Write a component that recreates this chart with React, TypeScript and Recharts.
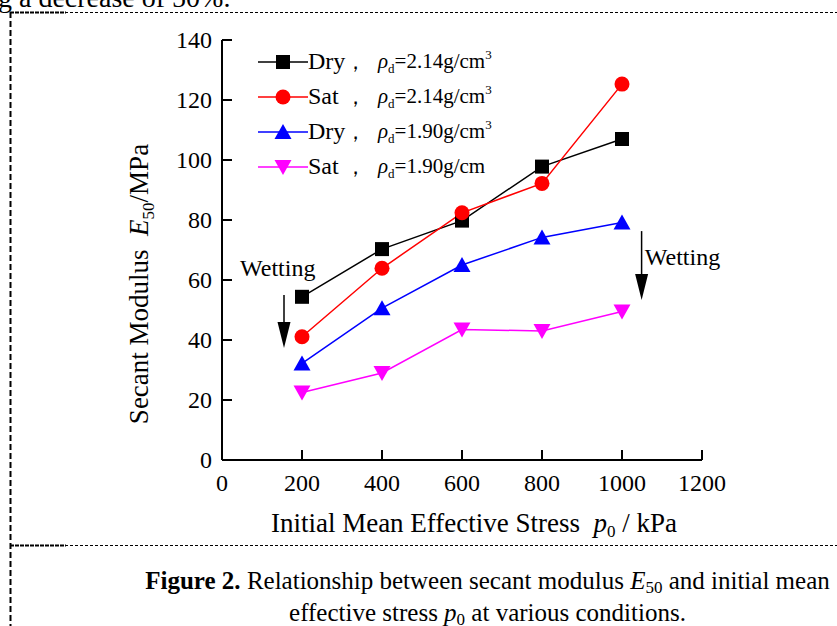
import React from 'react';
import { LineChart, Line, XAxis, YAxis, Legend, Label, ReferenceDot } from 'recharts';

const SERIF = '"Liberation Serif", "Times New Roman", serif';

// initial mean effective stress p0 (kPa)
const pressures = [200, 400, 600, 800, 1000];
// secant modulus E50 (MPa)
const dryHigh = [54.4, 70.3, 79.8, 97.8, 107.0];
const satHigh = [41.1, 63.9, 82.4, 92.2, 125.3];
const dryLow = [32.2, 50.6, 65.0, 74.2, 79.2];
const satLow = [22.5, 29.0, 43.5, 43.0, 49.5];

const xTicks = [0, 200, 400, 600, 800, 1000, 1200];
const yTicks = [0, 20, 40, 60, 80, 100, 120, 140];

const SERIES = [
  { key: 'dryHigh', state: 'Dry', density: '2.14', sup: true, color: '#000000', shape: 'square' },
  { key: 'satHigh', state: 'Sat', density: '2.14', sup: true, color: '#ff0000', shape: 'circle' },
  { key: 'dryLow', state: 'Dry', density: '1.90', sup: true, color: '#0000ff', shape: 'up' },
  { key: 'satLow', state: 'Sat', density: '1.90', sup: false, color: '#ff00ff', shape: 'down' },
];

const rows = pressures.map((p, i) => ({
  p,
  dryHigh: dryHigh[i],
  satHigh: satHigh[i],
  dryLow: dryLow[i],
  satLow: satLow[i],
}));

const marker = (shape: string, cx: number, cy: number, color: string, key?: any) => {
  if (shape === 'square') return <rect key={key} x={cx - 7} y={cy - 7} width={14} height={14} fill={color} />;
  if (shape === 'circle') return <circle key={key} cx={cx} cy={cy} r={7.5} fill={color} />;
  if (shape === 'up')
    return <polygon key={key} points={`${cx},${cy - 8} ${cx - 8.5},${cy + 7} ${cx + 8.5},${cy + 7}`} fill={color} />;
  return <polygon key={key} points={`${cx},${cy + 8} ${cx - 8.5},${cy - 7} ${cx + 8.5},${cy - 7}`} fill={color} />;
};

const YTick = ({ x, y, payload }: any) => (
  <g>
    <line x1={x} x2={x + 10} y1={y} y2={y} stroke="#000" strokeWidth={2} />
    <text x={x - 10} y={y} dy="0.35em" textAnchor="end" fontSize={24} fontFamily={SERIF} fill="#000">
      {payload.value}
    </text>
  </g>
);

const XTick = ({ x, y, payload }: any) => (
  <g>
    <line x1={x} x2={x} y1={y} y2={y - 10} stroke="#000" strokeWidth={2} />
    <text x={x} y={y + 23} dy="0.35em" textAnchor="middle" fontSize={24} fontFamily={SERIF} fill="#000">
      {payload.value}
    </text>
  </g>
);

const YTitle = (props: any) => {
  const vb = props.viewBox ?? { x: 162, y: 40, width: 60, height: 420 };
  const cx = vb.x - 23;
  const cy = vb.y + vb.height / 2 + 34;
  return (
    <text
      x={cx}
      y={cy}
      transform={`rotate(-90 ${cx} ${cy})`}
      textAnchor="middle"
      dy="0.35em"
      fontSize={27}
      fontFamily={SERIF}
      fill="#000"
    >
      Secant Modulus{'\u00a0\u00a0'}
      <tspan fontStyle="italic">E</tspan>
      <tspan fontSize={17} dy={6}>50</tspan>
      <tspan dy={-6}>/MPa</tspan>
    </text>
  );
};

const XTitle = (props: any) => {
  const vb = props.viewBox ?? { x: 222, y: 460, width: 480, height: 40 };
  const cx = vb.x + vb.width / 2 + 12;
  const cy = vb.y + 63;
  return (
    <text x={cx} y={cy} textAnchor="middle" dy="0.35em" fontSize={27} fontFamily={SERIF} fill="#000">
      Initial Mean Effective Stress{'\u00a0\u00a0'}
      <tspan fontStyle="italic">p</tspan>
      <tspan fontSize={17} dy={5}>0</tspan>
      <tspan dy={-5}>{'\u00a0'}/ kPa</tspan>
    </text>
  );
};

const renderLegend = () => (
  <div style={{ fontFamily: SERIF, fontSize: 21, color: '#000' }}>
    {SERIES.map((s) => (
      <div key={s.key} style={{ display: 'flex', alignItems: 'center', height: 35, whiteSpace: 'nowrap' }}>
        <svg width={50} height={20} style={{ display: 'block' }}>
          <line x1={0} x2={50} y1={10} y2={10} stroke={s.color} strokeWidth={1.5} />
          {marker(s.shape, 25, 10, s.color)}
        </svg>
        <span style={{ display: 'inline-block', width: 37, fontSize: 24 }}>{s.state}</span>
        <span style={{ display: 'inline-block', width: 33 }}>，</span>
        <span>
          <i>ρ</i>
          <span style={{ fontSize: 13, position: 'relative', top: 5 }}>d</span>
          ={s.density}g/cm
          {s.sup && <span style={{ fontSize: 13, position: 'relative', top: -9 }}>3</span>}
        </span>
      </div>
    ))}
  </div>
);

const Arrow = ({ cx, cy, len }: any) => (
  <g>
    <line x1={cx} x2={cx} y1={cy} y2={cy + len - 20} stroke="#000" strokeWidth={1.5} />
    <polygon points={`${cx - 6.5},${cy + len - 26} ${cx + 6.5},${cy + len - 26} ${cx},${cy + len}`} fill="#000" />
  </g>
);

const Note = ({ cx, cy }: any) => (
  <text x={cx} y={cy} dy="0.35em" fontSize={24} fontFamily={SERIF} fill="#000">
    Wetting
  </text>
);

// page frame: thin dashed rules with heavier dashes near the ends
const Frame = () => (
  <svg width={837} height={626} style={{ position: 'absolute', left: 0, top: 0 }}>
    <line x1={10} x2={837} y1={12.5} y2={12.5} stroke="#000" strokeDasharray="3 2" />
    <line x1={10} x2={66} y1={12.5} y2={12.5} stroke="#000" strokeWidth={2} strokeDasharray="4 1" />
    <line x1={10.5} x2={10.5} y1={12} y2={626} stroke="#000" strokeWidth={2} strokeDasharray="6 3" />
    <line x1={10} x2={837} y1={545.5} y2={545.5} stroke="#000" strokeDasharray="3 2" />
    <line x1={10} x2={66} y1={545.5} y2={545.5} stroke="#000" strokeWidth={2} strokeDasharray="4 1" />
  </svg>
);

const sub: React.CSSProperties = { fontSize: 17, position: 'relative', top: 4 };

export default function App() {
  return (
    <div
      style={{
        position: 'absolute',
        left: 0,
        top: 0,
        width: 837,
        height: 626,
        background: '#fff',
        overflow: 'hidden',
        fontFamily: SERIF,
      }}
    >
      <div style={{ position: 'absolute', left: -2, top: -16, fontSize: 28, lineHeight: '28px', whiteSpace: 'nowrap' }}>
        g a decrease of 50%.
      </div>
      <Frame />
      <div style={{ position: 'absolute', left: 0, top: 0 }}>
        <LineChart width={837} height={626} data={rows} margin={{ top: 40, right: 135, left: 162, bottom: 126 }}>
          <XAxis
            dataKey="p"
            type="number"
            domain={[0, 1200]}
            ticks={xTicks}
            interval={0}
            height={40}
            tickSize={0}
            tickMargin={0}
            tickLine={false}
            tick={<XTick />}
            axisLine={{ stroke: '#000', strokeWidth: 2 }}
          >
            <Label content={XTitle} />
          </XAxis>
          <YAxis
            type="number"
            domain={[0, 140]}
            ticks={yTicks}
            interval={0}
            width={60}
            tickSize={0}
            tickMargin={0}
            tickLine={false}
            tick={<YTick />}
            axisLine={{ stroke: '#000', strokeWidth: 2 }}
          >
            <Label content={YTitle} />
          </YAxis>
          <Legend
            layout="vertical"
            verticalAlign="middle"
            align="center"
            wrapperStyle={{ top: 44, left: 258, width: 280 }}
            content={renderLegend}
          />
          {SERIES.map((s) => (
            <Line
              key={s.key}
              dataKey={s.key}
              type="linear"
              stroke={s.color}
              strokeWidth={1.5}
              isAnimationActive={false}
              dot={(p: any) => marker(s.shape, p.cx, p.cy, s.color, p.key ?? p.index)}
              activeDot={false}
            />
          ))}
          <ReferenceDot x={155} y={55} r={0} ifOverflow="visible" shape={(p: any) => <Arrow cx={p.cx} cy={p.cy} len={53} />} />
          <ReferenceDot x={1049} y={76.3} r={0} ifOverflow="visible" shape={(p: any) => <Arrow cx={p.cx} cy={p.cy} len={69} />} />
          <ReferenceDot x={45} y={64} r={0} ifOverflow="visible" shape={(p: any) => <Note cx={p.cx} cy={p.cy} />} />
          <ReferenceDot x={1057} y={67.7} r={0} ifOverflow="visible" shape={(p: any) => <Note cx={p.cx} cy={p.cy} />} />
        </LineChart>
      </div>
      <div
        style={{
          position: 'absolute',
          left: 0,
          width: 975,
          top: 566,
          fontSize: 25,
          lineHeight: '29px',
          textAlign: 'center',
          whiteSpace: 'nowrap',
        }}
      >
        <div>
          <b>Figure 2.</b> Relationship between secant modulus <i>E</i>
          <span style={sub}>50</span> and initial mean
        </div>
        <div>
          effective stress <i>p</i>
          <span style={sub}>0</span> at various conditions.
        </div>
      </div>
    </div>
  );
}
